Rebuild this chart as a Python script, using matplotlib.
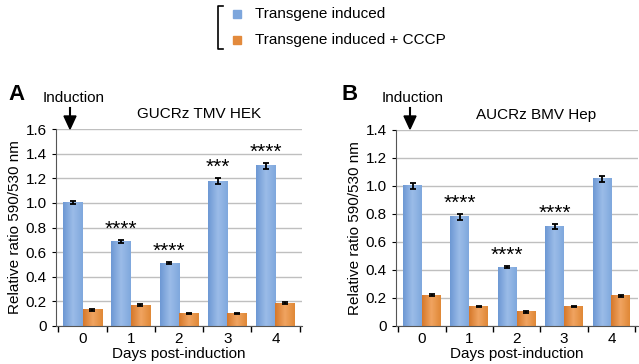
import numpy as np
import matplotlib.pyplot as plt
from matplotlib.ticker import FuncFormatter, FixedLocator
from matplotlib.colors import LinearSegmentedColormap

plt.rcParams['font.family'] = ['Liberation Sans', 'DejaVu Sans']

days = ['0', '1', '2', '3', '4']

# panel A: GUCRz TMV HEK
a_ind = [1.00, 0.69, 0.51, 1.175, 1.30]
a_ind_err = [0.012, 0.012, 0.008, 0.025, 0.025]
a_cccp = [0.13, 0.17, 0.10, 0.10, 0.185]
a_cccp_err = [0.006, 0.006, 0.004, 0.004, 0.006]
a_stars = ['', '****', '****', '***', '****']

# panel B: AUCRz BMV Hep
b_ind = [1.00, 0.78, 0.42, 0.71, 1.05]
b_ind_err = [0.02, 0.02, 0.006, 0.015, 0.022]
b_cccp = [0.22, 0.14, 0.10, 0.14, 0.215]
b_cccp_err = [0.006, 0.005, 0.004, 0.005, 0.006]
b_stars = ['', '****', '****', '****', '']

blue = '#7da6dc'
orange = '#e38a3c'
blue_grad = LinearSegmentedColormap.from_list('bg', ['#6d98d4', '#9bbce8', '#7fa8dd'])
orange_grad = LinearSegmentedColormap.from_list('og', ['#d6782a', '#f0a461', '#e08836'])
grad = np.linspace(0, 1, 64).reshape(1, -1)


def gradient_bars(ax, xs, heights, w, cmap):
    for xc, h in zip(xs, heights):
        ax.imshow(grad, cmap=cmap, aspect='auto', zorder=2,
                  extent=[xc - w / 2, xc + w / 2, 0, h])


def draw_panel(ax, ind, ind_err, cccp, cccp_err, stars, ymax, title):
    x = np.arange(len(days))
    w = 0.4
    gradient_bars(ax, x - w / 2, ind, w, blue_grad)
    gradient_bars(ax, x + w / 2, cccp, w, orange_grad)
    ax.errorbar(x - w / 2, ind, yerr=ind_err, fmt='none', ecolor='black',
                elinewidth=1.3, capsize=2.5, capthick=1.3, zorder=3)
    ax.errorbar(x + w / 2, cccp, yerr=cccp_err, fmt='none', ecolor='black',
                elinewidth=1.3, capsize=2.5, capthick=1.3, zorder=3)
    for xi, v, e, s in zip(x, ind, ind_err, stars):
        if s:
            ax.text(xi - w / 2, v + e + 0.01, s, ha='center', va='bottom',
                    fontsize=15)
    ax.set_xlim(-0.55, 4.55)
    ax.set_ylim(0, ymax)
    ax.set_yticks(np.arange(0, ymax + 0.01, 0.2))
    ax.yaxis.set_major_formatter(FuncFormatter(
        lambda v, p: '0' if abs(v) < 1e-9 else '%.1f' % v))
    ax.set_xticks(x)
    ax.set_xticklabels(days)
    ax.xaxis.set_minor_locator(FixedLocator(np.arange(-0.5, 5, 1)))
    ax.tick_params(axis='x', which='major', length=0, labelsize=11, pad=4)
    ax.tick_params(axis='x', which='minor', length=4, width=1)
    ax.tick_params(axis='y', length=3, labelsize=11)
    ax.grid(axis='y', color='#bfbfbf', linewidth=1, zorder=0)
    for sp in ['top', 'right']:
        ax.spines[sp].set_visible(False)
    ax.spines['left'].set_color('#555555')
    ax.spines['bottom'].set_color('#555555')
    ax.set_xlabel('Days post-induction', fontsize=11, labelpad=1)
    ax.set_ylabel('Relative ratio 590/530 nm', fontsize=11, labelpad=3)
    ax.set_title(title, fontsize=11, pad=8, x=0.58)


fig = plt.figure(figsize=(6.39, 3.64), dpi=100)
axA = fig.add_axes([0.0876, 0.1044, 0.385, 0.5412])
axB = fig.add_axes([0.6197, 0.1044, 0.378, 0.5385])

draw_panel(axA, a_ind, a_ind_err, a_cccp, a_cccp_err, a_stars, 1.6, 'GUCRz TMV HEK')
draw_panel(axB, b_ind, b_ind_err, b_cccp, b_cccp_err, b_stars, 1.4, 'AUCRz BMV Hep')

# panel letters
fig.text(8 / 639, 1 - 94 / 364, 'A', fontsize=16, fontweight='bold', va='center')
fig.text(342 / 639, 1 - 94 / 364, 'B', fontsize=16, fontweight='bold', va='center')

# induction arrows
for xt, xa in [(74, 70), (413, 410)]:
    fig.text(xt / 639, 1 - 98 / 364, 'Induction', fontsize=11, ha='center', va='center')
    fig.patches.append(plt.Polygon([[(xa - 6) / 639, 1 - 116 / 364],
                                    [(xa + 6) / 639, 1 - 116 / 364],
                                    [xa / 639, 1 - 129 / 364]],
                                   closed=True, color='black',
                                   transform=fig.transFigure, figure=fig))
    fig.lines.append(plt.Line2D([xa / 639, xa / 639], [1 - 108 / 364, 1 - 117 / 364],
                                color='black', linewidth=1.5,
                                transform=fig.transFigure, figure=fig))

# legend with bracket
bx = 218 / 639
fig.lines.append(plt.Line2D([bx + 5 / 639, bx, bx, bx + 5 / 639],
                            [1 - 6 / 364, 1 - 6 / 364, 1 - 49 / 364, 1 - 49 / 364],
                            color='black', linewidth=1.2,
                            transform=fig.transFigure, figure=fig))
for yy, col, lab in [(14, blue, 'Transgene induced'),
                     (40, orange, 'Transgene induced + CCCP')]:
    fig.patches.append(plt.Rectangle((233 / 639, 1 - (yy + 4) / 364), 8 / 639, 8 / 364,
                                     color=col, transform=fig.transFigure, figure=fig))
    fig.text(255 / 639, 1 - yy / 364, lab, fontsize=11, va='center')

fig.savefig('out.png', dpi=100)
